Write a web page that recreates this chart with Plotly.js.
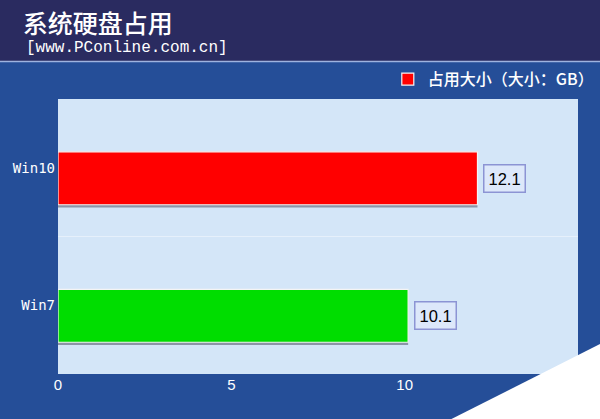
<!DOCTYPE html>
<html>
<head>
<meta charset="utf-8">
<script src="https://cdn.plot.ly/plotly-3.0.1.min.js"></script>
<style>
  html, body { margin: 0; padding: 0; background: #fff; }
  #chart { width: 600px; height: 419px; }
</style>
</head>
<body>
<div id="chart"></div>
<script>
var graphDiv = document.getElementById('chart');

// data
var systems = ['Win10', 'Win7'];
var sizes = [12.1, 10.1];
var barColors = ['#ff0000', '#00dd00'];
var seriesName = '占用大小（大小：GB）';

var barWidth = 0.385;
var barOffset = -0.116;

var shadow = {
    type: 'bar',
    orientation: 'h',
    y: systems,
    x: sizes,
    width: barWidth,
    offset: barOffset + 0.02,
    marker: {color: 'rgba(80,80,100,0.55)'},
    showlegend: false,
    hoverinfo: 'skip'
};

var main = {
    type: 'bar',
    orientation: 'h',
    y: systems,
    x: sizes,
    name: seriesName,
    width: barWidth,
    offset: barOffset,
    marker: {color: barColors, line: {color: '#f4f4f4', width: 1.2}}
};

var labels = [];
for (var i = 0; i < systems.length; i++) {
    labels.push({
        x: sizes[i], y: systems[i], xref: 'x', yref: 'y',
        text: sizes[i].toFixed(1), showarrow: false,
        xanchor: 'left', yanchor: 'middle', xshift: 6, yshift: -10.5,
        font: {family: 'Liberation Sans, Arial', size: 16.5, color: '#000'},
        bgcolor: '#dde8fa', bordercolor: '#8c94d4', borderwidth: 1.5, borderpad: 4
    });
}

labels.push({
    x: -0.065, y: 1.186, xref: 'paper', yref: 'paper',
    text: '[www.PConline.com.cn]', showarrow: false,
    xanchor: 'left', yanchor: 'middle',
    font: {family: 'Liberation Mono, DejaVu Sans Mono', size: 16, color: '#fff'}
});

var layout = {
    width: 600,
    height: 419,
    margin: {l: 58, r: 22, t: 99, b: 45},
    paper_bgcolor: '#254e98',
    plot_bgcolor: '#d4e6f8',
    barmode: 'overlay',
    title: {
        text: '系统硬盘占用',
        x: 0.038, xanchor: 'left',
        y: 0.942, yanchor: 'middle', yref: 'container',
        font: {family: 'Noto Sans CJK SC', size: 25, color: '#fff', weight: 500}
    },
    xaxis: {
        range: [0, 15],
        dtick: 5,
        showgrid: false,
        zeroline: false,
        showline: false,
        tickfont: {family: 'Liberation Sans, Arial', size: 15, color: '#fff'}
    },
    yaxis: {
        autorange: 'reversed',
        tickson: 'boundaries',
        showgrid: true,
        gridcolor: '#e6f0fb',
        gridwidth: 1.5,
        ticks: '',
        ticklabelstandoff: 2,
        showline: false,
        tickfont: {family: 'DejaVu Sans Mono', size: 14, color: '#fff'}
    },
    showlegend: true,
    legend: {
        orientation: 'h',
        xref: 'container', yref: 'container',
        x: 0.998, xanchor: 'right',
        y: 0.811, yanchor: 'middle',
        bgcolor: 'rgba(0,0,0,0)',
        font: {family: 'Noto Sans CJK SC', size: 16, color: '#fff', weight: 500}
    },
    shapes: [
        // dark header band
        {type: 'rect', xref: 'paper', yref: 'paper', x0: -0.12, x1: 1.05, y0: 1.138, y1: 1.37,
         fillcolor: '#2a2b60', line: {width: 0}, layer: 'below'},
        {type: 'line', xref: 'paper', yref: 'paper', x0: -0.12, x1: 1.05, y0: 1.136, y1: 1.136,
         line: {color: '#9fb3df', width: 1.5}},
        // page curl in the corner
        {type: 'path', xref: 'paper', yref: 'paper',
         path: 'M 1.05 0.1164 L 0.75 -0.17 L 1.05 -0.17 Z',
         fillcolor: '#ffffff', line: {width: 0}, layer: 'above'}
    ],
    annotations: labels
};

Plotly.newPlot(graphDiv, [shadow, main], layout, {displayModeBar: false, staticPlot: true});
</script>
</body>
</html>
